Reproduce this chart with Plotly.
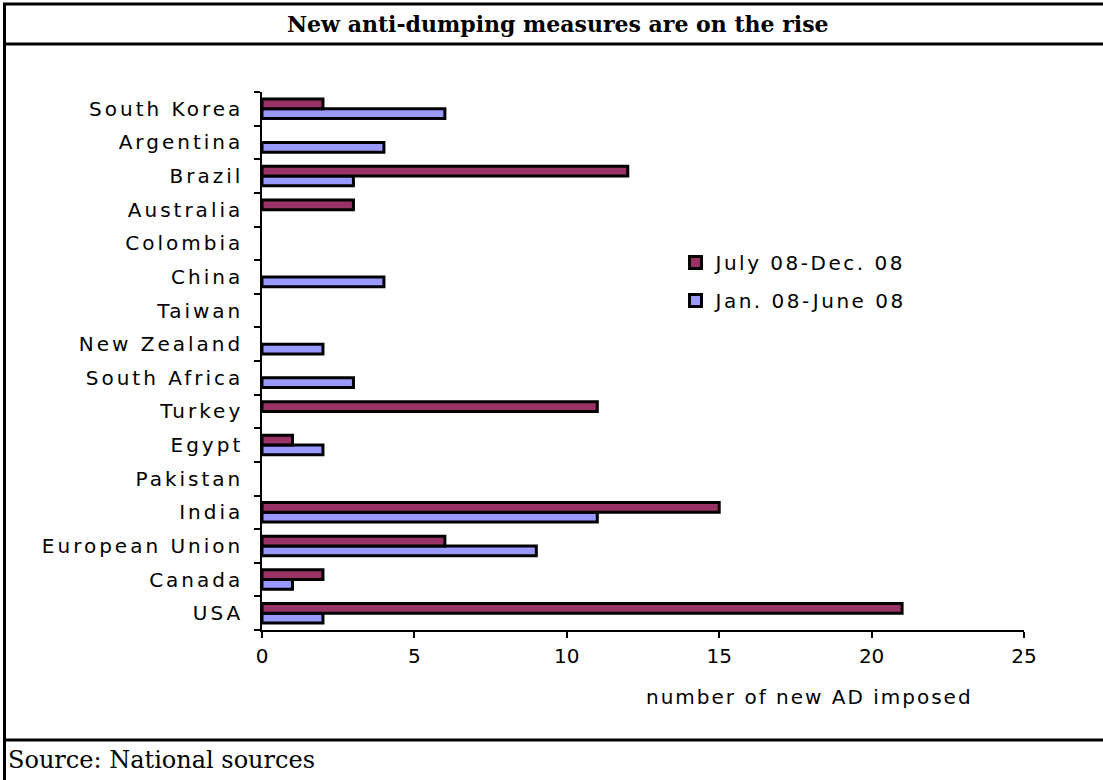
import plotly.graph_objects as go

# Data (bottom to top, as plotted on a categorical axis)
countries = ["USA", "Canada", "European Union", "India", "Pakistan", "Egypt", "Turkey",
             "South Africa", "New Zealand", "Taiwan", "China", "Colombia", "Australia",
             "Brazil", "Argentina", "South Korea"]
jan_june_08 = [2, 1, 9, 11, 0, 2, 0, 3, 2, 0, 4, 0, 0, 3, 4, 6]
july_dec_08 = [21, 2, 6, 15, 0, 1, 11, 0, 0, 0, 0, 0, 3, 12, 0, 2]
x_ticks = [0, 5, 10, 15, 20, 25]

W, H = 1103, 780
L, R, T, B = 262, 1024, 92, 630   # plot area in pixels

def px_x(x):
    return (x - L) / (R - L)

def px_y(y):
    return (B - y) / (B - T)

def outline(values, w=3):
    # no outline for empty bars
    return [w if v else 0 for v in values]

fig = go.Figure()
fig.add_trace(go.Bar(
    y=countries, x=jan_june_08, orientation="h", name="Jan. 08-June 08",
    legendgroup="b", legendrank=2,
    marker=dict(color="#9999FF", line=dict(color="black", width=outline(jan_june_08))),
))
fig.add_trace(go.Bar(
    y=countries, x=july_dec_08, orientation="h", name="July 08-Dec. 08",
    legendgroup="a", legendrank=1,
    marker=dict(color="#993366", line=dict(color="black", width=outline(july_dec_08))),
))

tick_font = dict(family="DejaVu Sans", size=20, color="black")

fig.update_layout(
    width=W, height=H,
    margin=dict(l=L, r=W - R, t=T, b=H - B, autoexpand=False),
    paper_bgcolor="white", plot_bgcolor="white",
    barmode="group", bargap=0.42, bargroupgap=0,
    showlegend=True,
    legend=dict(
        x=px_x(675.5), y=px_y(243), xanchor="left", yanchor="top",
        traceorder="grouped", tracegroupgap=9,
        font=tick_font, bgcolor="rgba(0,0,0,0)",
    ),
    xaxis=dict(
        range=[0, 25], tickvals=x_ticks, ticktext=[str(v) for v in x_ticks],
        showgrid=False, zeroline=False, showline=True, linecolor="black", linewidth=1.5,
        ticks="outside", ticklen=6, tickcolor="black", tickwidth=1.5,
        tickfont=tick_font, ticklabelstandoff=1,
    ),
    yaxis=dict(
        categoryorder="array", categoryarray=countries,
        showgrid=False, zeroline=False, showline=True, linecolor="black", linewidth=1.5,
        ticks="outside", ticklen=6, tickcolor="black", tickwidth=1.5,
        tickson="boundaries", tickfont=tick_font, ticklabelstandoff=13,
    ),
)

# Title, axis title and source as text
fig.add_annotation(
    text="<b>New anti-dumping measures are on the rise</b>",
    xref="paper", yref="paper", x=px_x(558), y=px_y(24),
    xanchor="center", yanchor="middle", showarrow=False,
    font=dict(family="DejaVu Serif", size=22, color="black"),
)
fig.add_annotation(
    text="number of new AD imposed",
    xref="paper", yref="paper", x=px_x(809), y=px_y(697),
    xanchor="center", yanchor="middle", showarrow=False,
    font=tick_font,
)
fig.add_annotation(
    text="Source: National sources",
    xref="paper", yref="paper", x=px_x(6), y=px_y(760),
    xanchor="left", yanchor="middle", showarrow=False,
    font=dict(family="DejaVu Serif", size=24, color="black"),
)

# Frame lines
line = dict(color="black", width=3)
for yy in (4, 44, 740):
    fig.add_shape(type="line", xref="paper", yref="paper",
                  x0=px_x(3), x1=px_x(1103), y0=px_y(yy), y1=px_y(yy), line=line)
fig.add_shape(type="line", xref="paper", yref="paper",
              x0=px_x(4.5), x1=px_x(4.5), y0=px_y(3), y1=px_y(780), line=line)

post = (
    "document.body.style.margin='0';"
    "var s=document.createElement('style');"
    "s.textContent='.ytick text{letter-spacing:3px}"
    " .legendtext{letter-spacing:2.5px}"
    " .legend .scrollbox{clip-path:none !important}"
    " .annotation[data-index=\"1\"] .annotation-text{letter-spacing:2px}';"
    "document.head.appendChild(s);"
)
fig.write_html("out.html", post_script=post, config={"displayModeBar": False})
